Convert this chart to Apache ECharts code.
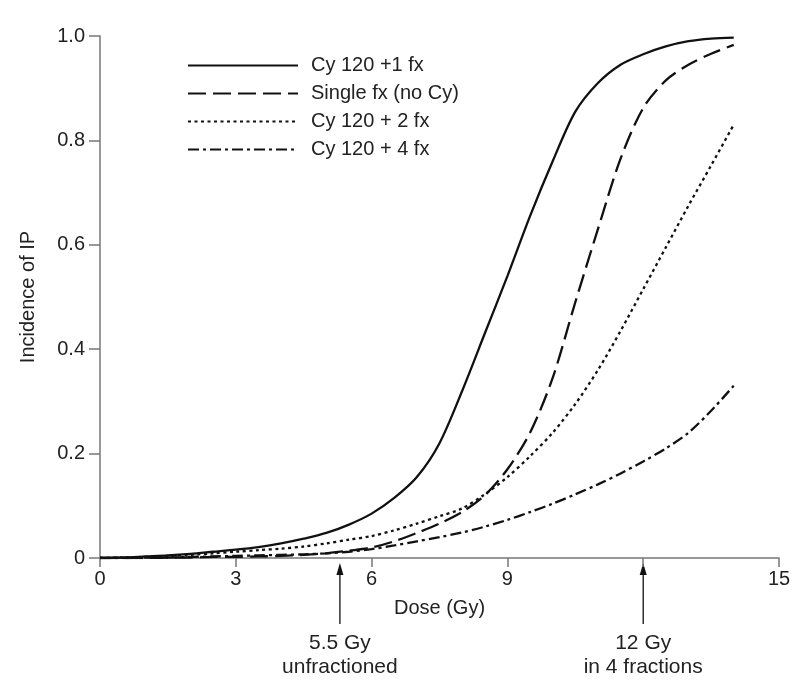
<!DOCTYPE html>
<html>
<head>
<meta charset="utf-8">
<script src="https://cdn.jsdelivr.net/npm/echarts@6/dist/echarts.min.js"></script>
<style>html,body{margin:0;padding:0;background:#fff}#c{width:800px;height:684px}</style>
</head>
<body>
<div id="c"></div>
<script>
var dose = [0,0.5,1,1.5,2,2.5,3,3.5,4,4.5,5,5.5,6,6.5,7,7.5,8,8.5,9,9.5,10,10.5,11,11.5,12,12.5,13,13.5,14];
var cy1fx = [0,0.001,0.003,0.005,0.008,0.012,0.016,0.021,0.028,0.037,0.048,0.064,0.085,0.115,0.155,0.22,0.32,0.43,0.54,0.655,0.76,0.855,0.91,0.945,0.965,0.98,0.99,0.995,0.997];
var singleFx = [0,0,0,0.001,0.001,0.002,0.002,0.003,0.004,0.006,0.009,0.014,0.02,0.032,0.048,0.066,0.088,0.12,0.17,0.24,0.345,0.49,0.63,0.765,0.862,0.915,0.945,0.966,0.983];
var cy2fx = [0,0.001,0.002,0.004,0.006,0.009,0.012,0.015,0.018,0.022,0.028,0.035,0.042,0.053,0.066,0.08,0.095,0.122,0.155,0.195,0.24,0.295,0.36,0.435,0.515,0.595,0.675,0.752,0.83];
var cy4fx = [0,0,0.001,0.001,0.002,0.003,0.004,0.005,0.006,0.007,0.009,0.012,0.017,0.024,0.032,0.04,0.049,0.06,0.073,0.088,0.104,0.122,0.141,0.162,0.185,0.21,0.24,0.282,0.33];
var seriesNames = ['Cy 120 +1 fx','Single fx (no Cy)','Cy 120 + 2 fx','Cy 120 + 4 fx'];
var xTicks = ['0','3','6','9','','15'];
var arrowDose = [5.3, 12];
var arrowLabels = ['5.5 Gy\nunfractioned', '12 Gy\nin 4 fractions'];

var FONT = "'Liberation Sans', Arial, Helvetica, sans-serif";
function pairs(ys){ return dose.map(function(d,i){ return [d, ys[i]]; }); }
var dashTypes = ['solid', [18,7], [3,3.5], [11,4,3,4]];
var allData = [cy1fx, singleFx, cy2fx, cy4fx];

var chart = echarts.init(document.getElementById('c'));
var option = {
  animation: false,
  backgroundColor: '#fff',
  textStyle: {fontFamily: FONT},
  grid: {left: 100, right: 21, top: 36, bottom: 126},
  legend: {
    orient: 'vertical', left: 187, top: 54, padding: 0,
    itemWidth: 110, itemHeight: 14, itemGap: 5,
    itemStyle: {opacity: 0},
    textStyle: {fontSize: 20, color: '#222', fontFamily: FONT, padding: [0,0,0,8], lineHeight: 23},
    data: seriesNames
  },
  xAxis: {
    type: 'value', min: 0, max: 15, interval: 3,
    name: 'Dose (Gy)', nameLocation: 'middle', nameGap: 40,
    nameTextStyle: {fontSize: 20, color: '#222'},
    axisLine: {show: true, lineStyle: {color: '#777', width: 1.5}},
    axisTick: {show: true, length: 9, lineStyle: {color: '#777', width: 1.5}},
    axisLabel: {fontSize: 20, color: '#222', margin: 11, formatter: function(v){ return xTicks[Math.round(v/3)]; }},
    splitLine: {show: false}
  },
  yAxis: {
    type: 'value', min: 0, max: 1, interval: 0.2,
    name: 'Incidence of IP', nameLocation: 'middle', nameGap: 62, nameRotate: 90,
    nameTextStyle: {fontSize: 20, color: '#222'},
    axisLine: {show: true, lineStyle: {color: '#777', width: 1.5}},
    axisTick: {show: true, length: 11, lineStyle: {color: '#777', width: 1.5}},
    axisLabel: {fontSize: 20, color: '#222', margin: 15, formatter: function(v){ return v === 0 ? '0' : v.toFixed(1); }},
    splitLine: {show: false}
  },
  series: seriesNames.map(function(n, i){
    return {
      name: n, type: 'line', data: pairs(allData[i]), smooth: 0.3,
      symbol: 'none', showSymbol: false,
      lineStyle: {color: '#111', width: 2.3, type: dashTypes[i]},
      itemStyle: {color: '#111'}
    };
  })
};
chart.setOption(option);

var yAxisPx = chart.convertToPixel({yAxisIndex: 0}, 0);
var g = [];
arrowDose.forEach(function(d, i){
  var px = chart.convertToPixel({xAxisIndex: 0}, d);
  var tip = yAxisPx + 5;
  g.push({type: 'line', shape: {x1: px, y1: tip + 8, x2: px, y2: yAxisPx + 66}, style: {stroke: '#111', lineWidth: 1.3}});
  g.push({type: 'polygon', shape: {points: [[px, tip], [px - 3.5, tip + 12], [px + 3.5, tip + 12]]}, style: {fill: '#111'}});
  g.push({type: 'text', x: px, y: yAxisPx + 73, style: {text: arrowLabels[i], textAlign: 'center', textVerticalAlign: 'top', fontSize: 21, lineHeight: 24, fill: '#222', fontFamily: FONT}});
});
chart.setOption({graphic: g});
</script>
</body>
</html>
